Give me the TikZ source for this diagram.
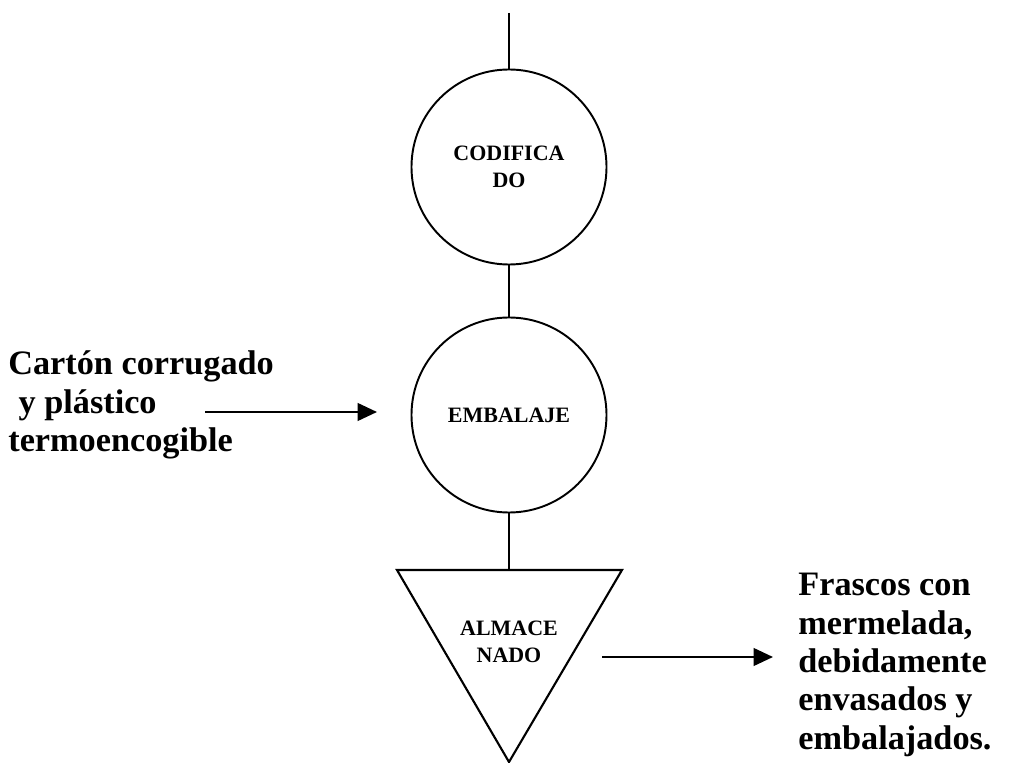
\documentclass[tikz,border=0pt]{standalone}
\usepackage{fontspec}
\setmainfont{Liberation Serif}
\usetikzlibrary{arrows.meta}
\usetikzlibrary{positioning}
\tikzset{proc/.style = {draw, circle, line width=1.1pt, minimum size=111pt, inner sep=0,
                        font=\bfseries\fontsize{12.5}{15.4}\selectfont, align=center}}
\tikzset{flow/.style = {line width=1.2pt}}
\tikzset{feed/.style = {line width=1.3pt, -{Triangle[length=11pt,width=10pt]}}}
\tikzset{side/.style = {font=\bfseries\fontsize{19.5}{21.8}\selectfont, align=left, inner sep=0}}

\begin{document}
\begin{tikzpicture}[x=0.02cm, y=-0.02cm]
  \useasboundingbox (0,0) rectangle (1012,763);

  \coordinate (start) at (509,13);
  \node [proc] (codif) at (509,167) {CODIFICA\\DO};
  \node [proc] (embal) at (509,415) {EMBALAJE};

  % almacenado
  \coordinate (almL) at (397,570);
  \coordinate (almT) at (509,570);
  \coordinate (almR) at (622,570);
  \coordinate (almB) at (509,762);
  \draw [flow] (almL) -- (almR) -- (almB) -- cycle;
  \node [font=\bfseries\fontsize{12.5}{15.4}\selectfont, align=center] (alm) at (509,642) {ALMACE\\NADO};

  \draw [flow] (start) -- (codif.north);
  \draw [flow] (codif.south) -- (embal.north);
  \draw [flow] (embal.south) -- (almT);

  \node [side, anchor=west] (mat) at (8,405) {Cartón corrugado\\\hspace{0.3em}y plástico\\termoencogible};
  \coordinate (inA) at (205,412);
  \coordinate (inB) at (377,412);
  \draw [feed] (inA) -- (inB);

  \node [side, anchor=west] (prod) at (798,665) {Frascos con\\mermelada,\\debidamente\\envasados y\\embalajados.};
  \coordinate (outA) at (602,657);
  \coordinate (outB) at (773,657);
  \draw [feed] (outA) -- (outB);
\end{tikzpicture}
\end{document}
